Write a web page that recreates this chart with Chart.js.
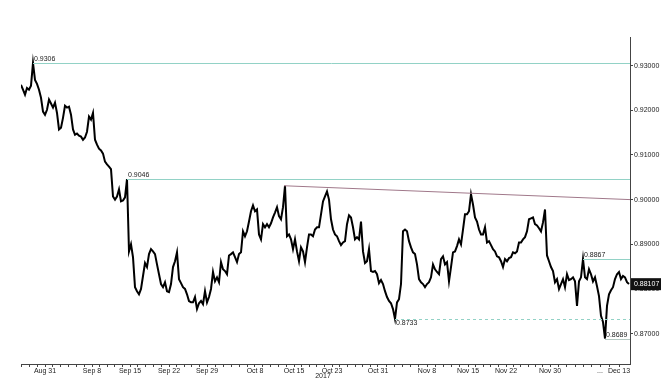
<!DOCTYPE html>
<html>
<head>
<meta charset="utf-8">
<script src="https://cdn.jsdelivr.net/npm/chart.js@4/dist/chart.umd.min.js"></script>
<style>
html, body { margin: 0; padding: 0; background: #fff; }
#wrap { width: 661px; height: 385px; position: relative; }
</style>
</head>
<body>
<div id="wrap"><canvas id="myChart"></canvas></div>
<script>
// price series, one value per step
var prices = [
  0.9257,0.9246,0.9235,0.9250,0.9246,0.9255,0.9306,0.9268,0.9259,0.9246,
  0.9228,0.9197,0.9190,0.9201,0.9224,0.9215,0.9206,0.9217,0.9194,0.9157,
  0.9161,0.9183,0.9210,0.9206,0.9208,0.9190,0.9157,0.9145,0.9148,0.9143,
  0.9141,0.9134,0.9139,0.9152,0.9186,0.9179,0.9194,0.9134,0.9123,0.9114,
  0.9110,0.9103,0.9085,0.9079,0.9074,0.9068,0.9007,0.9000,0.9007,0.9023,
  0.8996,0.8998,0.9005,0.9046,0.8884,0.8900,0.8871,0.8804,0.8795,0.8788,
  0.8800,0.8829,0.8858,0.8849,0.8878,0.8889,0.8884,0.8878,0.8855,0.8833,
  0.8811,0.8804,0.8815,0.8795,0.8793,0.8811,0.8849,0.8862,0.8882,0.8822,
  0.8813,0.8804,0.8800,0.8788,0.8773,0.8770,0.8770,0.8782,0.8755,0.8768,
  0.8773,0.8766,0.8795,0.8770,0.8782,0.8800,0.8838,0.8817,0.8826,0.8815,
  0.8860,0.8844,0.8840,0.8833,0.8875,0.8878,0.8882,0.8871,0.8860,0.8878,
  0.8882,0.8929,0.8918,0.8929,0.8951,0.8974,0.8987,0.8974,0.8978,0.8922,
  0.8911,0.8945,0.8938,0.8945,0.8938,0.8947,0.8960,0.8971,0.8983,0.8963,
  0.8956,0.8983,0.9031,0.8918,0.8922,0.8911,0.8889,0.8911,0.8884,0.8862,
  0.8893,0.8884,0.8860,0.8893,0.8922,0.8922,0.8918,0.8933,0.8938,0.8938,
  0.8967,0.8996,0.9007,0.9018,0.9000,0.8956,0.8933,0.8922,0.8918,0.8907,
  0.8898,0.8904,0.8907,0.8945,0.8965,0.8960,0.8938,0.8911,0.8916,0.8911,
  0.8951,0.8884,0.8858,0.8862,0.8889,0.8840,0.8838,0.8840,0.8833,0.8813,
  0.8820,0.8811,0.8795,0.8782,0.8773,0.8768,0.8755,0.8733,0.8770,0.8777,
  0.8811,0.8929,0.8933,0.8929,0.8907,0.8893,0.8882,0.8878,0.8855,0.8822,
  0.8815,0.8811,0.8804,0.8811,0.8815,0.8826,0.8855,0.8844,0.8838,0.8833,
  0.8867,0.8873,0.8855,0.8860,0.8817,0.8849,0.8882,0.8884,0.8896,0.8911,
  0.8900,0.8933,0.8967,0.8967,0.8974,0.9012,0.8989,0.8960,0.8951,0.8933,
  0.8922,0.8922,0.8938,0.8904,0.8907,0.8898,0.8889,0.8884,0.8873,0.8871,
  0.8862,0.8849,0.8867,0.8862,0.8869,0.8871,0.8882,0.8880,0.8884,0.8904,
  0.8904,0.8911,0.8916,0.8929,0.8956,0.8958,0.8960,0.8945,0.8942,0.8936,
  0.8929,0.8949,0.8978,0.8875,0.8862,0.8849,0.8840,0.8815,0.8822,0.8800,
  0.8811,0.8822,0.8804,0.8833,0.8820,0.8822,0.8826,0.8817,0.8762,0.8817,
  0.8826,0.8867,0.8826,0.8822,0.8844,0.8833,0.8817,0.8826,0.8806,0.8784,
  0.8740,0.8726,0.8689,0.8762,0.8788,0.8797,0.8804,0.8822,0.8833,0.8838,
  0.8822,0.8829,0.8826,0.8815,0.8811
];

// date labels and where they sit on the step axis
var xLabels = ["Aug 31","Sep 8","Sep 15","Sep 22","Sep 29","Oct 8","Oct 15","Oct 23",
               "Oct 31","Nov 8","Nov 15","Nov 22","Nov 30","...","Dec 13"];
var xLabelPos = [12,35.5,54.5,74,93,117,136.5,155.5,178.5,203,223.5,242.5,264.5,289.5,299];
var yearLabel = "2017";
var yearPos = 151;

var yTicks = [0.87,0.88,0.89,0.90,0.91,0.92,0.93];
var lastPrice = 0.88107;

// marked levels: value, start step, label
var levelVals  = [0.9306, 0.9046, 0.8867, 0.8733, 0.8689];
var levelStart = [6, 53, 281, 187, 292];
var levelDash  = [false, false, false, true, false];
var levelAbove = [true, true, true, false, true];

// falling trend line between the two highs
var trendX = [131.5, 304.5];
var trendY = [0.9031, 0.9000];

var lastStep = prices.length - 0.5;

var fontFam = "'Liberation Sans', Arial, sans-serif";

var xTickVals = [];
(function () {
  var pts = [0].concat(xLabelPos).concat([lastStep]);
  for (var k = 0; k < pts.length - 1; k++) {
    var a = pts[k], b = pts[k + 1];
    var n = Math.max(1, Math.round((b - a) / 3.9));
    for (var j = 0; j < n; j++) xTickVals.push(a + (b - a) * j / n);
  }
})();

var marks = {
  id: 'marks',
  afterDatasetsDraw: function (chart) {
    var c = chart.ctx, xs = chart.scales.x, ys = chart.scales.y;
    var right = chart.chartArea.right;
    c.save();
    c.font = "7px " + fontFam;
    c.textBaseline = 'middle';
    c.textAlign = 'left';
    for (var i = 0; i < levelVals.length; i++) {
      var py = Math.round(ys.getPixelForValue(levelVals[i])) + 0.5;
      var px = xs.getPixelForValue(levelStart[i]);
      c.strokeStyle = i === 4 ? '#b5c8c2' : '#92d2c6';
      c.lineWidth = 1;
      c.setLineDash(levelDash[i] ? [3, 3] : []);
      c.beginPath(); c.moveTo(px, py); c.lineTo(right, py); c.stroke();
      c.fillStyle = '#222';
      c.fillText(levelVals[i].toFixed(4), px + 1, levelAbove[i] ? py - 4 : py + 4);
    }
    c.setLineDash([]);
    c.strokeStyle = '#a0788a';
    c.beginPath();
    c.moveTo(xs.getPixelForValue(trendX[0]), ys.getPixelForValue(trendY[0]));
    c.lineTo(xs.getPixelForValue(trendX[1]), ys.getPixelForValue(trendY[1]));
    c.stroke();
    c.restore();
  },
  afterDraw: function (chart) {
    var c = chart.ctx, xs = chart.scales.x, ys = chart.scales.y;
    c.save();
    var py = ys.getPixelForValue(lastPrice);
    c.fillStyle = '#111';
    c.fillRect(chart.chartArea.right + 1, py - 6, 30, 12);
    c.fillStyle = '#fff';
    c.font = "7px " + fontFam;
    c.textBaseline = 'middle';
    c.fillText(lastPrice.toFixed(5), chart.chartArea.right + 4, py);
    c.fillStyle = '#222';
    c.textAlign = 'center';
    c.fillText(yearLabel, xs.getPixelForValue(yearPos), 376);
    c.restore();
  }
};

new Chart("myChart", {
  type: "line",
  data: {
    datasets: [{
      data: prices.map(function (p, i) { return { x: i, y: p }; }),
      borderColor: "#000",
      borderWidth: 2,
      pointRadius: 0,
      tension: 0
    }]
  },
  options: {
    responsive: true,
    maintainAspectRatio: false,
    animation: false,
    layout: { padding: { top: 37, left: 21, right: 0, bottom: 0 } },
    plugins: { legend: { display: false }, tooltip: { enabled: false } },
    scales: {
      x: {
        type: "linear",
        min: 0,
        max: lastStep,
        afterBuildTicks: function (s) {
          s.ticks = xTickVals.map(function (v) { return { value: v }; });
        },
        afterFit: function (s) { s.height = 21; },
        grid: { drawOnChartArea: false, tickLength: 3, color: '#444' },
        border: { color: '#444' },
        ticks: {
          autoSkip: false, maxRotation: 0, padding: 0,
          font: { size: 7, family: fontFam }, color: '#222',
          callback: function (v) {
            for (var i = 0; i < xLabelPos.length; i++) {
              if (Math.abs(xLabelPos[i] - v) < 0.01) return xLabels[i];
            }
            return '';
          }
        }
      },
      y: {
        position: "right",
        min: 0.8632,
        max: 0.9364,
        afterBuildTicks: function (s) {
          s.ticks = yTicks.map(function (v) { return { value: v }; });
        },
        afterFit: function (s) { s.width = 31; },
        grid: { drawOnChartArea: false, tickLength: 3, color: '#444' },
        border: { color: '#444' },
        ticks: {
          padding: 1,
          font: { size: 7, family: fontFam }, color: '#222',
          callback: function (v) { return v.toFixed(5); }
        }
      }
    }
  },
  plugins: [marks]
});
</script>
</body>
</html>
